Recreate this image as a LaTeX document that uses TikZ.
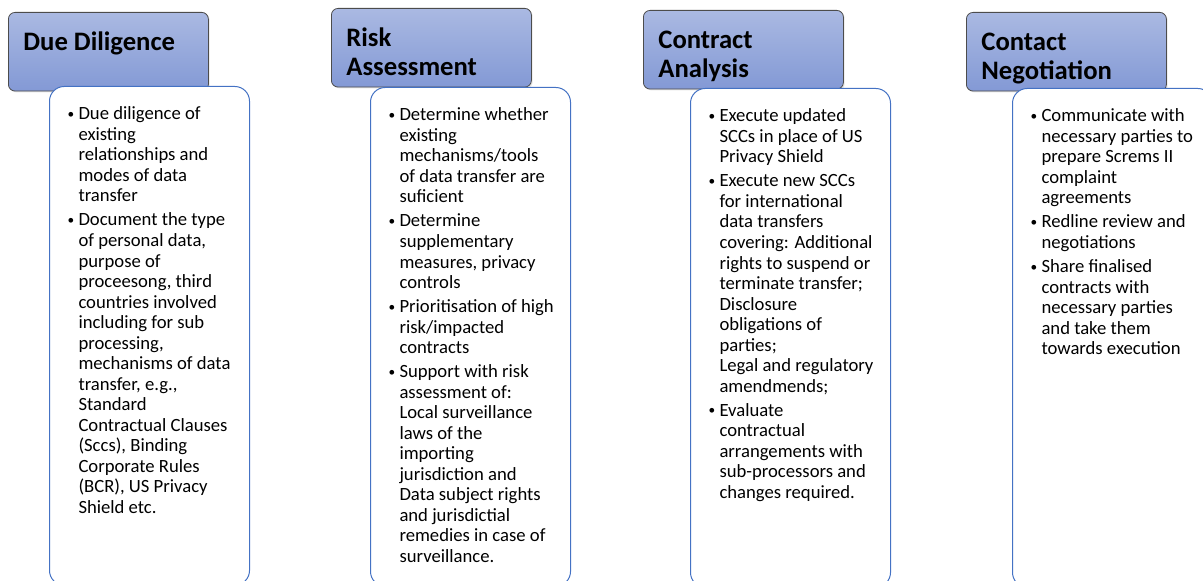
\documentclass[tikz,border=0pt]{standalone}
\usepackage{fontspec}
\setmainfont{Carlito}
\usetikzlibrary{shadows}

\definecolor{headtop}{RGB}{170,185,226}
\definecolor{headbot}{RGB}{131,153,213}
\definecolor{lineblue}{RGB}{68,114,196}

\newcommand\headtext[1]{\parbox[c][59pt][t]{150pt}{\fontsize{20}{22}\selectfont\bfseries\leftskip=11.25pt\vspace*{12.9pt}\strut#1}}
\newcommand\bodytext[1]{\parbox[c][374pt][t]{150pt}{\fontsize{14}{15.4}\selectfont\parskip=2.6pt\vspace*{11.6pt}#1}}
\newcommand\itm[1]{\par\leftskip=13.5pt\hangindent=8.25pt\hangafter=1\noindent\makebox[8.25pt][l]{\raisebox{1.1pt}{\fontsize{10}{10}\selectfont\textbullet}}\strut#1\par}

\tikzset{
	head/.style={draw=black!70, line width=0.6pt, rounded corners=5pt, top color=headtop, bottom color=headbot, inner sep=0pt, anchor=north west, drop shadow={shadow xshift=1pt, shadow yshift=-1pt, opacity=0.2}},
	panel/.style={draw=lineblue, line width=0.75pt, fill=white, rounded corners=11pt, inner sep=0pt, anchor=north west}
}

\begin{document}
\begin{tikzpicture}[x=0.75pt, y=-0.75pt]
	\clip (0,0) rectangle (1203,581);
	% step headers
	\node[head] (h1) at (8,12) {\headtext{Due Diligence}};
	\node[head] (h2) at (331,8) {\headtext{Risk\\Assessment}};
	\node[head] (h3) at (643,10) {\headtext{Contract\\Analysis}};
	\node[head] (h4) at (966,12) {\headtext{Contact\\Negotiation}};
	% task lists under each header
	\node[panel] (b1) at (49,86) {\bodytext{%
		\itm{Due diligence of\newline existing\newline relationships and\newline modes of data\newline transfer}
		\itm{Document the type\newline of personal data,\newline purpose of\newline proceesong, third\newline countries involved\newline including for sub\newline processing,\newline mechanisms of data\newline transfer, e.g.,\newline Standard\newline Contractual Clauses\newline (Sccs), Binding\newline Corporate Rules\newline (BCR), US Privacy\newline Shield etc.}}};
	\node[panel] (b2) at (370,87) {\bodytext{%
		\itm{Determine whether\newline existing\newline mechanisms/tools\newline of data transfer are\newline suficient}
		\itm{Determine\newline supplementary\newline measures, privacy\newline controls}
		\itm{Prioritisation of high\newline risk/impacted\newline contracts}
		\itm{Support with risk\newline assessment of:\newline Local surveillance\newline laws of the\newline importing\newline jurisdiction and\newline Data subject rights\newline and jurisdictial\newline remedies in case of\newline surveillance.}}};
	\node[panel] (b3) at (690,88) {\bodytext{%
		\itm{Execute updated\newline SCCs in place of US\newline Privacy Shield}
		\itm{Execute new SCCs\newline for international\newline data transfers\newline covering: Additional\newline rights to suspend or\newline terminate transfer;\newline Disclosure\newline obligations of\newline parties;\newline Legal and regulatory\newline amendmends;}
		\itm{Evaluate\newline contractual\newline arrangements with\newline sub-processors and\newline changes required.}}};
	\node[panel] (b4) at (1012,88) {\bodytext{%
		\itm{Communicate with\newline necessary parties to\newline prepare Screms II\newline complaint\newline agreements}
		\itm{Redline review and\newline negotiations}
		\itm{Share finalised\newline contracts with\newline necessary parties\newline and take them\newline towards execution}}};
\end{tikzpicture}
\end{document}
